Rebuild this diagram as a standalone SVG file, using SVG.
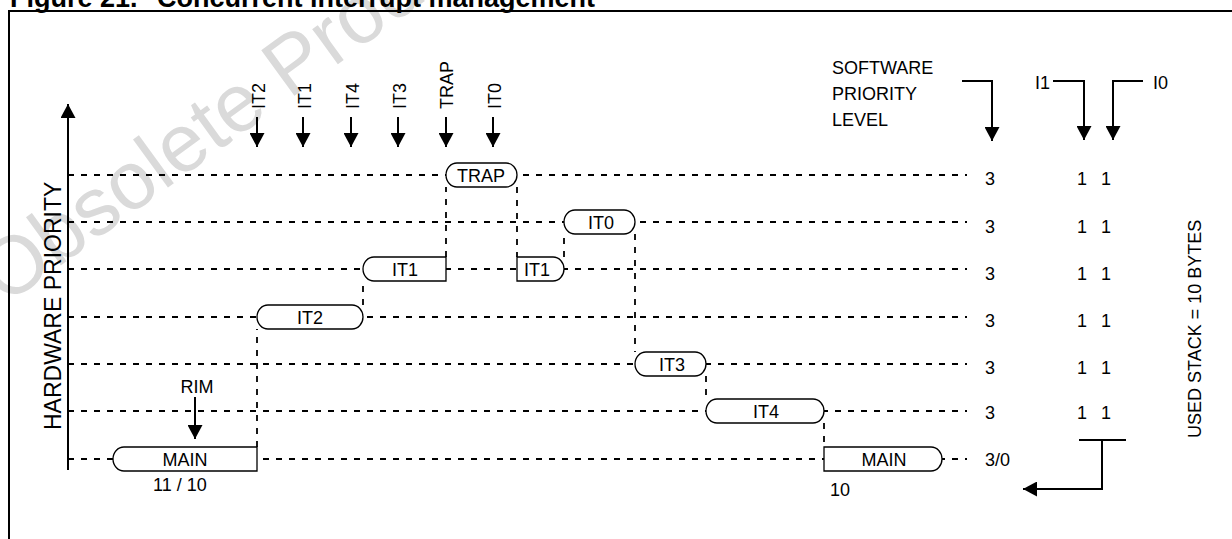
<svg xmlns="http://www.w3.org/2000/svg" width="1232" height="539" viewBox="0 0 1232 539">
<style>
.t{font-family:"Liberation Sans",Arial,sans-serif;font-size:18px;fill:#000}
.c{text-anchor:middle}
.dash{stroke:#000;stroke-width:1.8;stroke-dasharray:6 7;fill:none}
.node{fill:#fff;stroke:#000;stroke-width:1.3}
.arr{stroke:#000;stroke-width:2;fill:none}
.wm{font-family:"Liberation Sans",Arial,sans-serif;font-size:82px;fill:#dadada}
.ttl{font-family:"Liberation Sans",Arial,sans-serif;font-size:27px;font-weight:bold;fill:#000}
</style>
<defs>
<marker id="ah" viewBox="0 0 14 15" refX="14" refY="7.5" markerWidth="14" markerHeight="15" orient="auto" markerUnits="userSpaceOnUse"><path d="M0,0 L14,7.5 L0,15 z" fill="#000"/></marker>
</defs>
<rect width="1232" height="539" fill="#fff"/>
<text class="wm" transform="translate(5,306) rotate(-36)">Obsolete Product(s)</text>
<g id="title">
<text class="ttl" x="10" y="7">Figure 21.</text>
<text class="ttl" x="157" y="7">Concurrent interrupt management</text>
</g>
<path d="M9,539 V11 H1232" stroke="#000" stroke-width="2" fill="none"/>
<g id="connectors">
<g id="levels">
<line class="dash" x1="68" y1="175" x2="967" y2="175"/>
<line class="dash" x1="68" y1="222" x2="967" y2="222"/>
<line class="dash" x1="68" y1="269" x2="967" y2="269"/>
<line class="dash" x1="68" y1="317" x2="967" y2="317"/>
<line class="dash" x1="68" y1="364" x2="967" y2="364"/>
<line class="dash" x1="68" y1="411" x2="967" y2="411"/>
<line class="dash" x1="68" y1="459" x2="967" y2="459"/>
</g>
<line class="dash" x1="257" y1="447" x2="257" y2="329"/>
<line class="dash" x1="363" y1="305" x2="363" y2="281"/>
<line class="dash" x1="446" y1="257" x2="446" y2="187"/>
<line class="dash" x1="517" y1="187" x2="517" y2="257"/>
<line class="dash" x1="564" y1="257" x2="564" y2="234"/>
<line class="dash" x1="635" y1="234" x2="635" y2="352"/>
<line class="dash" x1="706" y1="376" x2="706" y2="399"/>
<line class="dash" x1="824" y1="423" x2="824" y2="447"/>
<line class="arr" x1="68" y1="470" x2="68" y2="104" marker-end="url(#ah)"/>
<line class="arr" x1="257" y1="117" x2="257" y2="147" marker-end="url(#ah)"/>
<line class="arr" x1="303" y1="117" x2="303" y2="147" marker-end="url(#ah)"/>
<line class="arr" x1="351" y1="117" x2="351" y2="147" marker-end="url(#ah)"/>
<line class="arr" x1="398" y1="117" x2="398" y2="147" marker-end="url(#ah)"/>
<line class="arr" x1="446" y1="117" x2="446" y2="147" marker-end="url(#ah)"/>
<line class="arr" x1="493" y1="117" x2="493" y2="147" marker-end="url(#ah)"/>
<line class="arr" x1="195" y1="397" x2="195" y2="439" marker-end="url(#ah)"/>
<path class="arr" d="M962,81 H992 V141" marker-end="url(#ah)"/>
<path class="arr" d="M1053,81 H1084 V140" marker-end="url(#ah)"/>
<path class="arr" d="M1143,81 H1113 V140" marker-end="url(#ah)"/>
<path class="arr" d="M1079,440 H1126"/>
<path class="arr" d="M1102,440 V489 H1023" marker-end="url(#ah)"/>
</g>
<g id="main1"><path class="node" d="M124,447 H257 V471 H124 A11 12 0 0 1 124,447 Z"/><text class="t c" x="185" y="465.5">MAIN</text></g>
<g id="it2"><path class="node" d="M268,305 H352 A11 12 0 0 1 352,329 H268 A11 12 0 0 1 268,305 Z"/><text class="t c" x="310" y="323.5">IT2</text></g>
<g id="it1a"><path class="node" d="M374,257 H446 V281 H374 A11 12 0 0 1 374,257 Z"/><text class="t c" x="405" y="275.5">IT1</text></g>
<g id="trap"><path class="node" d="M457,163 H506 A11 12 0 0 1 506,187 H457 A11 12 0 0 1 457,163 Z"/><text class="t c" x="481" y="181.5">TRAP</text></g>
<g id="it1b"><path class="node" d="M517,257 H553 A11 12 0 0 1 553,281 H517 Z"/><text class="t c" x="537" y="275.5">IT1</text></g>
<g id="it0"><path class="node" d="M575,210 H624 A11 12 0 0 1 624,234 H575 A11 12 0 0 1 575,210 Z"/><text class="t c" x="601" y="228.5">IT0</text></g>
<g id="it3"><path class="node" d="M646,352 H695 A11 12 0 0 1 695,376 H646 A11 12 0 0 1 646,352 Z"/><text class="t c" x="672" y="370.5">IT3</text></g>
<g id="it4"><path class="node" d="M717,399 H813 A11 12 0 0 1 813,423 H717 A11 12 0 0 1 717,399 Z"/><text class="t c" x="766" y="417.5">IT4</text></g>
<g id="main2"><path class="node" d="M824,447 H931 A11 12 0 0 1 931,471 H824 Z"/><text class="t c" x="884" y="465.5">MAIN</text></g>
<g id="labels">
<text class="t" transform="translate(265,109) rotate(-90)">IT2</text>
<text class="t" transform="translate(311,109) rotate(-90)">IT1</text>
<text class="t" transform="translate(359,109) rotate(-90)">IT4</text>
<text class="t" transform="translate(406,109) rotate(-90)">IT3</text>
<text class="t" transform="translate(453,109) rotate(-90)">TRAP</text>
<text class="t" transform="translate(501,109) rotate(-90)">IT0</text>
<text class="t" x="832" y="74">SOFTWARE</text>
<text class="t" x="832" y="99.5">PRIORITY</text>
<text class="t" x="832" y="126">LEVEL</text>
<text class="t" x="1035" y="88.5">I1</text>
<text class="t" x="1153" y="88.5">I0</text>
<text class="t c" x="197" y="393">RIM</text>
<text class="t" x="153" y="491">11 / 10</text>
<text class="t" x="830" y="496">10</text>
<text class="t" x="985" y="185">3</text>
<text class="t" x="985" y="233">3</text>
<text class="t" x="985" y="280">3</text>
<text class="t" x="985" y="327">3</text>
<text class="t" x="985" y="374">3</text>
<text class="t" x="985" y="419">3</text>
<text class="t" x="985" y="466">3/0</text>
<text class="t c" x="1082" y="185">1</text><text class="t c" x="1106" y="185">1</text>
<text class="t c" x="1082" y="233">1</text><text class="t c" x="1106" y="233">1</text>
<text class="t c" x="1082" y="280">1</text><text class="t c" x="1106" y="280">1</text>
<text class="t c" x="1082" y="327">1</text><text class="t c" x="1106" y="327">1</text>
<text class="t c" x="1082" y="374">1</text><text class="t c" x="1106" y="374">1</text>
<text class="t c" x="1082" y="419">1</text><text class="t c" x="1106" y="419">1</text>
<text class="t" style="font-size:23px" transform="translate(61,430) rotate(-90)">HARDWARE PRIORITY</text>
<text class="t" transform="translate(1201,438) rotate(-90)">USED STACK = 10 BYTES</text>
</g>
</svg>
